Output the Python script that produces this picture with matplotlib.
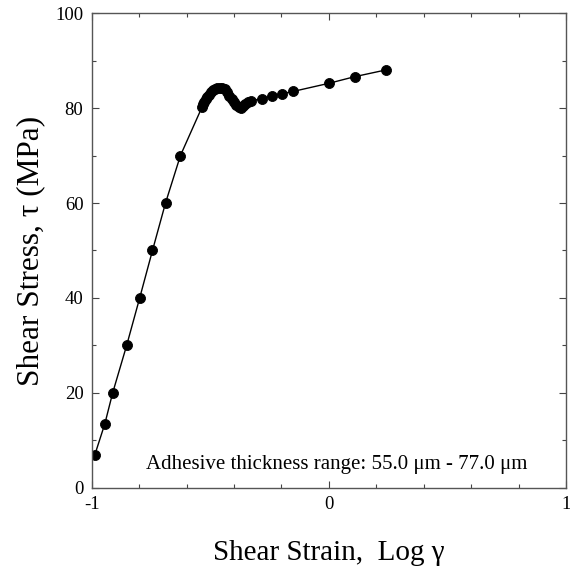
import matplotlib.pyplot as plt
from matplotlib.ticker import MultipleLocator

plt.rcParams['font.family'] = ['Liberation Serif', 'DejaVu Serif']
plt.rcParams['axes.unicode_minus'] = False

# log shear strain and shear stress (MPa)
log_strain = [-0.987, -0.945, -0.912, -0.853, -0.798, -0.744, -0.689, -0.626,
              -0.535, -0.530, -0.525, -0.520, -0.514, -0.507, -0.499, -0.490,
              -0.480, -0.470, -0.460, -0.450, -0.440, -0.430, -0.420, -0.410,
              -0.400, -0.390, -0.380, -0.372, -0.362, -0.352, -0.340, -0.330,
              -0.280, -0.238, -0.199, -0.150, 0.000, 0.109, 0.239]
stress = [7.0, 13.5, 20.0, 30.0, 40.0, 50.0, 60.0, 70.0,
          80.2, 80.8, 81.3, 81.8, 82.3, 82.8, 83.3, 83.7,
          84.0, 84.2, 84.3, 84.2, 83.9, 83.3, 82.6, 81.9,
          81.2, 80.6, 80.2, 80.0, 80.4, 80.8, 81.2, 81.5,
          82.0, 82.6, 83.0, 83.5, 85.2, 86.6, 88.0]

fig = plt.figure(figsize=(5.7, 5.71), dpi=100)
ax = fig.add_axes([0.161, 0.1454, 0.832, 0.8318])

ax.plot(log_strain, stress, color='black', lw=1, marker='o', ms=7.2, mew=0.6)

ax.set_xlim(-1, 1)
ax.set_ylim(0, 100)
ax.xaxis.set_major_locator(MultipleLocator(1))
ax.xaxis.set_minor_locator(MultipleLocator(0.2))
ax.yaxis.set_major_locator(MultipleLocator(20))
ax.yaxis.set_minor_locator(MultipleLocator(10))
ax.tick_params(which='both', direction='in', top=True, right=True,
               labeltop=False, labelright=False, labelsize=13.5, width=0.8,
               color='#444444')
ax.tick_params(which='major', length=5, pad=6)
ax.tick_params(which='minor', length=3)
for s in ax.spines.values():
    s.set_color('#555555')
    s.set_linewidth(1)

ax.set_xlabel('Shear Strain,  Log γ', fontsize=21, labelpad=19)
ax.set_ylabel('Shear Stress, τ (MPa)', fontsize=22.5, labelpad=7)

ax.text(0.918, 0.03, 'Adhesive thickness range: 55.0 μm - 77.0 μm',
        transform=ax.transAxes, fontsize=15, ha='right', va='bottom')

fig.savefig('out.png', dpi=100)
